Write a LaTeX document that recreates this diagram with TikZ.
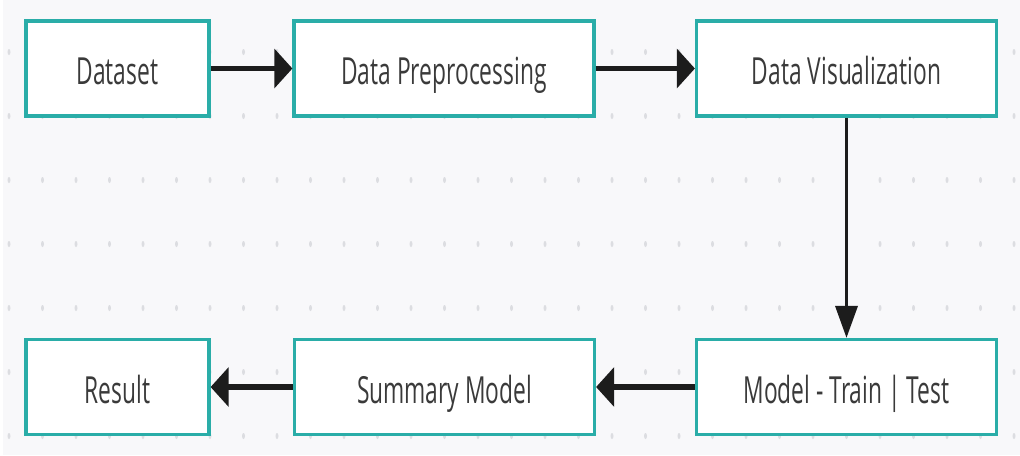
\documentclass[tikz,border=0pt]{standalone}
\usepackage{fontspec}
\usepackage{graphicx}
\setmainfont{Open Sans}
\usetikzlibrary{arrows.meta}
\definecolor{bgc}{HTML}{F8F8FA}
\definecolor{dotc}{HTML}{DCDDE1}
\definecolor{tealb}{HTML}{2AADA8}
\definecolor{txtc}{HTML}{3A3A3A}
\definecolor{arrc}{HTML}{1C1C1C}
\newcommand\lab[1]{\raisebox{-2.2pt}{\scalebox{0.61}[1]{#1}}}
\begin{document}
\begin{tikzpicture}[x=0.75pt,y=-0.75pt,
  box/.style={draw=tealb, line width=2.4pt, fill=white, minimum height=71.25pt,
    inner sep=0pt, font=\fontsize{28pt}{32pt}\selectfont, text=txtc,
    text height=20pt, text depth=0pt},
  smallbox/.style={box, minimum width=137.25pt},
  widebox/.style={box, minimum width=225pt},
  harr/.style={draw=arrc, line width=3.8pt, -{Triangle[length=13.5pt,width=29pt]}},
  varr/.style={draw=arrc, line width=2.6pt, -{Triangle[length=24pt,width=16.5pt]}}]
\fill[bgc] (0,0) rectangle (1020,455);
\fill[white] (0,0) rectangle (2.5,455);
\useasboundingbox (0,0) rectangle (1020,455);
\foreach \j in {0,...,6}
  \foreach \k in {0,...,30}
    \fill[dotc] (9+33.5*\k, 52+64*\j) ellipse (1.5 and 3);
\node[smallbox] (ds) at (117.5,68.5) {\lab{Dataset}};
\node[widebox] (dp) at (444,68.5) {\lab{Data Preprocessing}};
\node[widebox] (dv) at (846.5,68.5) {\lab{Data Visualization}};
\node[widebox] (mt) at (846.5,387) {\lab{Model - Train | Test}};
\node[widebox] (sm) at (444.5,387) {\lab{Summary Model}};
\node[smallbox] (rs) at (117.5,387) {\lab{Result}};
\draw[harr] (ds) -- (dp);
\draw[harr] (dp) -- (dv);
\draw[varr] (dv) -- (mt);
\draw[harr] (mt) -- (sm);
\draw[harr] (sm) -- (rs);
\end{tikzpicture}
\end{document}
